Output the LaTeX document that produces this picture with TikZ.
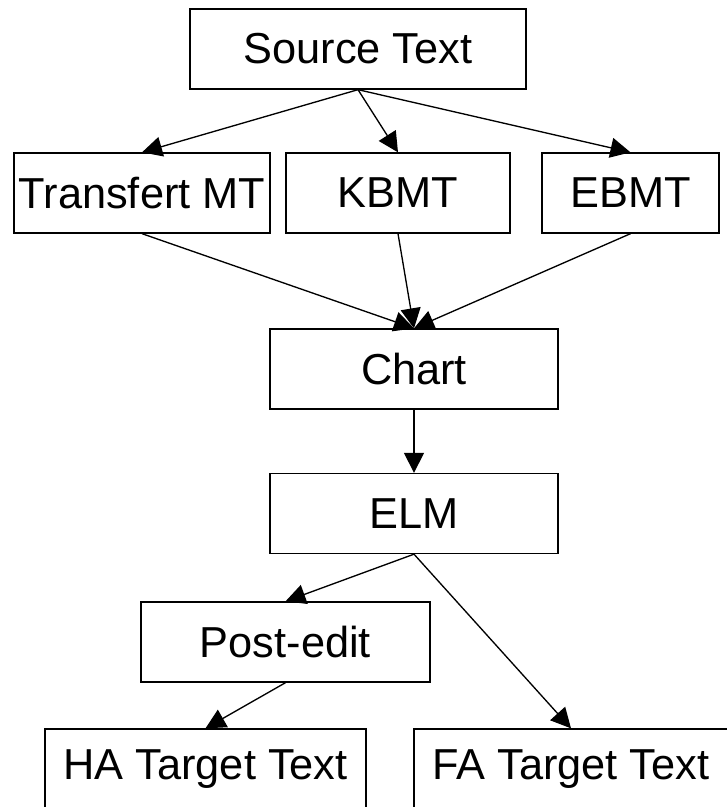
\documentclass[tikz,border=0pt]{standalone}
\usepackage{fontspec}
\setmainfont{Liberation Sans}
\usetikzlibrary{arrows.meta, positioning}

\begin{document}
\begin{tikzpicture}[
    x=0.75pt, y=-0.75pt,
    box/.style  = {draw=black, line width=1pt, rectangle, inner sep=0pt,
                   minimum height=60pt, font=\fontsize{32.5}{38}\selectfont},
    arr/.style  = {-{Triangle[length=15pt, width=15pt]}, line width=1pt},
]

%% ---- Canvas (bottom row runs off the page) ----
\useasboundingbox (0,0) rectangle (727,807);
\clip (0,0) rectangle (727,807);

%% ---- Nodes ----
\node[box, minimum width=252pt]    (src)  at (358,49)    {Source Text};

\node[box, minimum width=192pt]    (tmt)  at (142,193)   {Transfert MT};
\node[box, minimum width=168pt]    (kbmt) at (398,193)   {KBMT};
\node[box, minimum width=132.75pt] (ebmt) at (630.5,193) {EBMT};

\node[box, minimum width=216pt]    (chart) at (414,369)  {Chart};
\node[box, minimum width=216pt]    (elm)   at (414,513.5){ELM};
\node[box, minimum width=216.75pt] (post)  at (285.5,642){Post-edit};

\node[box, minimum width=240.75pt] (ha) at (205.5,769)   {HA Target Text};
\node[box, minimum width=235.5pt]  (fa) at (571,769)     {FA Target Text};

%% ---- Edges ----
\foreach \t in {tmt, kbmt, ebmt}{
    \draw[arr] (src.south) -- (\t.north);
    \draw[arr] (\t.south) -- (chart.north);
}
\draw[arr] (chart.south) -- (elm.north);
\draw[arr] (elm.south) -- (post.north);
\draw[arr] (elm.south) -- (fa.north);
\draw[arr] (post.south) -- (ha.north);

\end{tikzpicture}
\end{document}
